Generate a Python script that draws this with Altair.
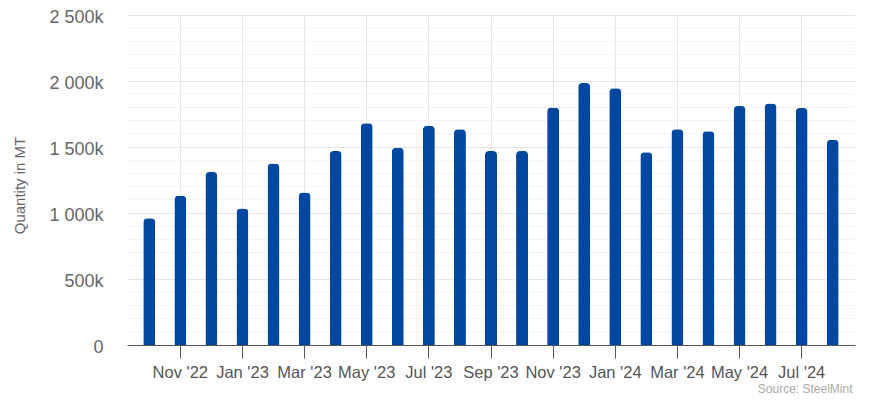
import altair as alt
import pandas as pd

months = ["Oct '22", "Nov '22", "Dec '22", "Jan '23", "Feb '23", "Mar '23", "Apr '23",
          "May '23", "Jun '23", "Jul '23", "Aug '23", "Sep '23", "Oct '23", "Nov '23",
          "Dec '23", "Jan '24", "Feb '24", "Mar '24", "Apr '24", "May '24", "Jun '24",
          "Jul '24", "Aug '24"]
quantity = [960000, 1130000, 1310000, 1035000, 1375000, 1155000, 1470000,
            1680000, 1495000, 1660000, 1635000, 1470000, 1470000, 1800000,
            1985000, 1945000, 1460000, 1635000, 1620000, 1810000, 1830000,
            1795000, 1555000]
tick_months = months[1::2]
minor_grid = [v for v in range(0, 2500001, 100000) if v % 500000 != 0]
major_ticks = [0, 500000, 1000000, 1500000, 2000000, 2500000]

df = pd.DataFrame({"month": months, "quantity": quantity})
grid_df = pd.DataFrame({"g": minor_grid})

FONT = "Liberation Sans"

yscale = alt.Scale(domain=[0, 2500000], nice=False)

minor = alt.Chart(grid_df).mark_rule(stroke="#f3f3f3", strokeWidth=1).encode(
    y=alt.Y("g:Q", scale=yscale)
)

bars = alt.Chart(df).mark_bar(
    color="#0047a0", cornerRadiusTopLeft=4, cornerRadiusTopRight=4
).encode(
    x=alt.X(
        "month:N",
        sort=months,
        scale=alt.Scale(paddingInner=0.614, paddingOuter=0.524),
        axis=alt.Axis(
            title=None,
            values=tick_months,
            labelAngle=0,
            labelFont=FONT,
            labelFontSize=16.5,
            labelColor="#555555",
            labelPadding=6,
            tickSize=13,
            tickColor="#555555",
            domainColor="#555555",
            grid=True,
            gridColor="#e6e6e6",
            bandPosition=0.5,
        ),
    ),
    y=alt.Y(
        "quantity:Q",
        scale=yscale,
        axis=alt.Axis(
            title="Quantity in MT",
            values=major_ticks,
            labelExpr="datum.value == 0 ? '0' : replace(format(datum.value / 1000, ','), ',', ' ') + 'k'",
            labelFont=FONT,
            labelFontSize=18,
            labelColor="#666666",
            labelPadding=24,
            labelOffset=2,
            ticks=False,
            domain=False,
            grid=True,
            gridColor="#e6e6e6",
            titleFont=FONT,
            titleFontSize=15,
            titleFontWeight="normal",
            titleColor="#666666",
            titlePadding=21,
            titleY=170,
        ),
    ),
)

chart = alt.layer(minor, bars).properties(
    width=728,
    height=330,
    autosize=alt.AutoSizeParams(type="none"),
    padding={"left": 119, "top": 7, "right": 10, "bottom": 55},
    title=alt.Title(
        "Source: SteelMint",
        orient="bottom",
        anchor="end",
        font=FONT,
        fontSize=12,
        fontWeight="normal",
        color="#aaaaaa",
        offset=3,
        dx=-3,
    ),
).configure_view(stroke=None)

chart.save("out.html", embed_options={"renderer": "svg", "actions": False})
